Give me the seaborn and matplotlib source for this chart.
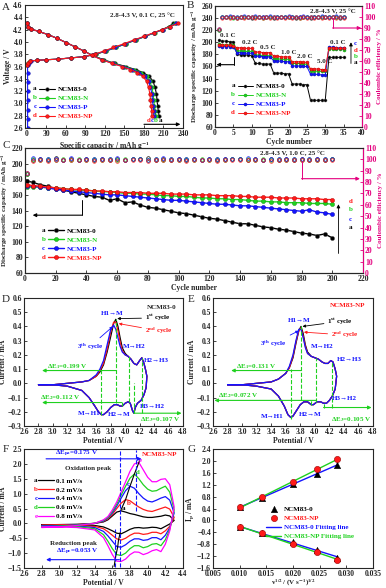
import numpy as np
import pandas as pd
import seaborn as sns
import matplotlib.pyplot as plt

# ---------------- data ----------------
names = ['NCM83-0', 'NCM83-N', 'NCM83-P', 'NCM83-NP']
letters = ['a', 'b', 'c', 'd']
colors = ['#000000', '#1fd11f', '#1414ff', '#ff1a1a']
edges = ['#555555', '#0f8f0f', '#0a0a99', '#aa0000']
ce_color = '#e4007f'

# A: first charge / discharge at 0.1 C
a_chg_v = [3.62, 3.66, 3.69, 3.70, 3.71, 3.72, 3.74, 3.76, 3.80, 3.85, 3.91, 3.97, 4.03, 4.09, 4.15, 4.20, 4.25, 4.30]
a_chg_v_p = [2.60, 2.75, 2.90, 3.05, 3.20, 3.35, 3.50, 3.62, 3.66, 3.69, 3.70, 3.71, 3.72, 3.74, 3.76, 3.80, 3.85,
             3.91, 3.97, 4.03, 4.09, 4.15, 4.20, 4.25, 4.30]
a_chg_cap_0 = [0, 2, 5, 15, 30, 48, 68, 88, 106, 121, 137, 152, 167, 182, 196, 208, 218, 225]
a_chg_cap_n = [0, 2, 5, 15, 30, 48, 68, 88, 106, 121, 137, 152, 167, 182, 197, 209, 219, 227]
a_chg_cap_p = [1, 1, 1, 1, 1, 1, 1, 1, 3, 6, 15, 30, 48, 68, 88, 105, 120, 136, 151, 166, 181, 196, 209, 220, 229]
a_chg_cap_np = [0, 2, 5, 15, 30, 48, 68, 88, 104, 118, 133, 149, 164, 180, 195, 208, 220, 232]
a_dis_v = [4.30, 4.25, 4.21, 4.17, 4.12, 4.06, 3.99, 3.92, 3.85, 3.78, 3.71, 3.65, 3.60, 3.55, 3.50, 3.44, 3.36,
           3.26, 3.16, 3.06, 2.96, 2.88, 2.80]
a_dis_cap_0 = [0, 2, 6, 18, 32, 46, 60, 74, 88, 101, 118, 135, 152, 167, 179, 188, 194, 197, 199, 200, 201, 202, 203]
a_dis_cap_n = [0, 2, 6, 18, 32, 46, 60, 74, 88, 101, 117, 134, 150, 165, 176, 184, 189, 192, 194, 195, 196, 197, 198]
a_dis_cap_p = [0, 2, 6, 18, 32, 46, 60, 74, 88, 100, 116, 132, 148, 162, 173, 181, 187, 190, 192, 193, 194, 195, 195]
a_dis_cap_np = [0, 2, 6, 18, 32, 46, 60, 74, 88, 100, 115, 131, 146, 159, 170, 178, 184, 187, 189, 190, 191, 192, 192]

# B: rate capability
b_cycle = list(range(1, 36))
b_cap_0 = [204, 202, 202, 201, 201, 180, 179, 179, 179, 178, 165, 165, 164, 164, 164, 149, 149, 149, 148, 148,
           131, 131, 131, 130, 130, 104, 104, 104, 104, 104, 175, 175, 175, 175, 175]
b_cap_n = [197, 196, 196, 196, 195, 186, 186, 185, 185, 185, 179, 179, 178, 178, 178, 173, 173, 172, 172, 172,
           165, 165, 165, 164, 164, 153, 153, 152, 152, 152, 189, 189, 189, 189, 188]
b_cap_p = [194, 193, 193, 193, 192, 183, 183, 182, 182, 182, 177, 177, 176, 176, 176, 169, 169, 169, 168, 168,
           161, 161, 161, 160, 160, 147, 147, 147, 146, 146, 192, 192, 191, 191, 191]
b_cap_np = [196, 195, 195, 195, 194, 191, 191, 190, 190, 190, 184, 184, 183, 183, 183, 177, 177, 176, 176, 176,
            168, 168, 168, 167, 167, 156, 156, 156, 155, 155, 191, 191, 190, 190, 190]
b_ce_0 = [88, 99.8, 100.2, 99.6, 100.1, 99.5, 100.3, 99.7, 100.0, 99.4, 100.2, 99.6, 100.1, 99.8, 100.3, 99.5,
          100.0, 99.7, 100.2, 99.6, 100.1, 99.4, 100.3, 99.8, 100.0, 99.5, 100.2, 99.7, 100.1, 99.6, 100.0, 99.8,
          100.2, 99.5, 100.1]
b_ce_n = [88, 100.1, 99.7, 100.3, 99.5, 100.0, 99.8, 100.4, 99.6, 100.2, 99.9, 100.3, 99.5, 100.1, 99.7, 100.2,
          99.6, 100.4, 99.8, 100.0, 99.7, 100.3, 99.5, 100.1, 99.9, 100.2, 99.6, 100.4, 99.8, 100.0, 99.7, 100.3,
          99.6, 100.1, 99.9]
b_ce_p = [89, 100.4, 100.0, 100.6, 99.9, 100.3, 100.1, 100.5, 99.8, 100.2, 100.6, 100.0, 100.3, 99.9, 100.5, 100.1,
          100.4, 99.8, 100.2, 100.6, 100.0, 100.3, 99.9, 100.5, 100.1, 100.4, 100.0, 100.2, 100.6, 99.9, 100.3,
          100.1, 100.5, 100.0, 100.2]
b_ce_np = [89, 99.5, 99.9, 99.3, 99.7, 99.4, 99.8, 99.2, 99.6, 99.9, 99.4, 99.7, 99.3, 99.8, 99.5, 99.9, 99.2,
           99.6, 99.4, 99.8, 99.3, 99.7, 99.5, 99.9, 99.4, 99.6, 99.2, 99.8, 99.5, 99.7, 99.3, 99.9, 99.4, 99.6, 99.5]
b_rates = ['0.1 C', '0.2 C', '0.5 C', '1.0 C', '2.0 C', '5.0 C', '0.1 C']

# C: long cycling at 1.0 C
c_cycle = [1, 5, 10, 15, 20, 25, 30, 35, 40, 45, 50, 55, 60, 65, 70, 75, 80, 85, 90, 95, 100, 105, 110, 115, 120,
           125, 130, 135, 140, 145, 150, 155, 160, 165, 170, 175, 180, 185, 190, 195, 200]
c_cap_0 = [178, 176, 173, 171, 168, 166, 164, 162, 160, 158, 157, 153, 155, 150, 151, 147, 144, 143, 141, 139,
           137, 136, 134, 132, 130, 129, 127, 125, 123, 123, 121, 119, 118, 116, 115, 113, 111, 110, 108, 110, 105]
c_cap_n = [170, 170, 170, 169, 169, 168, 167, 166, 166, 165, 164, 164, 163, 162, 162, 161, 161, 160, 159, 159,
           158, 158, 157, 156, 156, 155, 155, 154, 154, 153, 152, 152, 151, 151, 150, 150, 150, 149, 149, 149, 148]
c_cap_p = [172, 171, 170, 169, 167, 166, 165, 164, 163, 162, 161, 160, 160, 159, 158, 157, 156, 155, 154, 153,
           153, 152, 151, 150, 149, 148, 148, 147, 146, 146, 145, 144, 143, 142, 141, 140, 139, 141, 138, 137, 135]
c_cap_np = [173, 172, 171, 170, 169, 168, 167, 167, 166, 165, 165, 164, 164, 163, 163, 163, 162, 162, 162, 161,
            161, 161, 160, 160, 160, 159, 159, 159, 158, 158, 157, 157, 157, 156, 156, 156, 155, 155, 155, 154, 154]
c_ce_0 = [87, 99.4, 100.6, 99.1, 100.9, 99.5, 100.2, 99.7, 100.5, 99.3, 100.1, 99.6, 100.7, 99.4, 100.3, 99.9,
          100.8, 99.2, 100.0, 99.6, 100.4, 99.8, 100.2, 99.5, 100.6, 99.3, 100.1, 99.9, 100.5, 99.4, 100.2, 99.7,
          100.3, 99.6, 100.0, 99.5, 100.4, 99.8, 100.1, 99.6, 100.2]
c_ce_n = [87, 100.3, 99.5, 100.7, 99.2, 100.4, 99.8, 100.6, 99.4, 100.1, 99.7, 100.5, 99.3, 100.2, 99.9, 100.6,
          99.5, 100.3, 99.8, 100.4, 99.2, 100.0, 99.7, 100.5, 99.4, 100.2, 99.6, 100.3, 99.9, 100.1, 99.5, 100.4,
          99.8, 100.2, 99.3, 100.6, 99.7, 100.0, 99.6, 100.3, 99.9]
c_ce_p = [88, 100.8, 99.9, 100.2, 100.5, 99.6, 100.9, 99.8, 100.4, 100.7, 99.9, 100.3, 101.0, 99.7, 100.5, 100.1,
          99.8, 100.6, 100.9, 100.2, 99.9, 100.4, 100.7, 99.8, 100.3, 100.0, 100.6, 99.9, 100.2, 100.8, 100.1, 99.8,
          100.5, 100.3, 99.9, 100.6, 100.2, 100.0, 100.7, 100.3, 100.4]
c_ce_np = [88, 99.0, 99.6, 98.9, 99.4, 99.2, 99.7, 99.1, 99.5, 98.8, 99.3, 99.6, 99.0, 99.4, 99.2, 99.7, 98.9,
           99.5, 99.1, 99.3, 99.6, 99.0, 99.4, 99.2, 99.7, 98.9, 99.5, 99.3, 99.1, 99.6, 99.2, 99.4, 99.0, 99.5,
           99.3, 99.7, 99.1, 99.4, 99.2, 99.5, 99.3]

# D: CV of NCM83-0, first three cycles
d_an_v = [2.80, 3.00, 3.20, 3.40, 3.50, 3.60, 3.65, 3.70, 3.75, 3.80, 3.84, 3.87, 3.90, 3.93, 3.96, 4.00, 4.04,
          4.08, 4.12, 4.16, 4.20, 4.23, 4.26, 4.28, 4.30]
d_an_1 = [-0.01, -0.01, 0.00, 0.01, 0.02, 0.05, 0.08, 0.13, 0.22, 0.33, 0.42, 0.45, 0.40, 0.32, 0.25, 0.21, 0.19,
          0.17, 0.14, 0.13, 0.16, 0.18, 0.14, 0.10, 0.05]
d_an_2 = [-0.01, -0.01, 0.00, 0.01, 0.02, 0.05, 0.09, 0.14, 0.24, 0.36, 0.43, 0.43, 0.37, 0.29, 0.23, 0.20, 0.19,
          0.17, 0.14, 0.13, 0.16, 0.18, 0.14, 0.10, 0.05]
d_an_3 = [-0.01, -0.01, 0.00, 0.01, 0.02, 0.06, 0.10, 0.16, 0.27, 0.38, 0.41, 0.38, 0.32, 0.26, 0.22, 0.20, 0.19,
          0.17, 0.14, 0.13, 0.16, 0.18, 0.14, 0.10, 0.05]
d_ca_v = [4.30, 4.29, 4.26, 4.22, 4.17, 4.14, 4.12, 4.10, 4.07, 4.04, 4.00, 3.96, 3.93, 3.89, 3.85, 3.80, 3.75,
          3.70, 3.67, 3.63, 3.58, 3.50, 3.40, 3.20, 3.00, 2.80]
d_ca = [0.05, -0.03, -0.08, -0.12, -0.14, -0.17, -0.21, -0.19, -0.14, -0.13, -0.14, -0.16, -0.16, -0.15, -0.15,
        -0.17, -0.20, -0.22, -0.22, -0.20, -0.16, -0.10, -0.05, -0.02, -0.01, -0.01]
d_guide_x = [3.67, 3.87, 3.95, 4.05, 4.12, 4.23]
d_guide_lo = [-0.22, -0.14, -0.16, -0.13, -0.21, -0.21]
d_guide_hi = [0.10, 0.45, -0.13, 0.20, 0.00, 0.18]

# E: CV of NCM83-NP, first three cycles
e_an_v = [2.80, 3.00, 3.20, 3.40, 3.50, 3.60, 3.65, 3.70, 3.74, 3.78, 3.81, 3.84, 3.87, 3.90, 3.95, 4.00, 4.05,
          4.10, 4.14, 4.18, 4.22, 4.25, 4.28, 4.30]
e_an_1 = [-0.01, -0.01, 0.00, 0.01, 0.03, 0.07, 0.11, 0.18, 0.28, 0.37, 0.40, 0.35, 0.27, 0.22, 0.19, 0.18, 0.17,
          0.15, 0.14, 0.14, 0.16, 0.15, 0.10, 0.05]
e_an_2 = [-0.01, -0.01, 0.00, 0.01, 0.03, 0.07, 0.11, 0.19, 0.29, 0.37, 0.39, 0.33, 0.26, 0.21, 0.19, 0.18, 0.17,
          0.15, 0.14, 0.14, 0.16, 0.15, 0.10, 0.05]
e_an_3 = [-0.01, -0.01, 0.00, 0.01, 0.03, 0.07, 0.12, 0.20, 0.30, 0.38, 0.38, 0.32, 0.25, 0.21, 0.19, 0.18, 0.17,
          0.15, 0.14, 0.14, 0.16, 0.15, 0.10, 0.05]
e_ca_v = [4.30, 4.28, 4.24, 4.20, 4.16, 4.12, 4.08, 4.03, 3.98, 3.95, 3.90, 3.85, 3.80, 3.75, 3.70, 3.67, 3.63,
          3.58, 3.50, 3.40, 3.20, 3.00, 2.80]
e_ca = [0.05, -0.04, -0.09, -0.12, -0.14, -0.14, -0.13, -0.13, -0.15, -0.15, -0.13, -0.13, -0.15, -0.19, -0.23,
        -0.24, -0.22, -0.16, -0.09, -0.04, -0.02, -0.01, -0.01]
e_guide_x = [3.67, 3.81, 3.95, 4.02, 4.12, 4.23]
e_guide_lo = [-0.25, -0.12, -0.15, -0.13, -0.17, -0.17]
e_guide_hi = [0.10, 0.40, -0.12, 0.18, -0.14, 0.16]

# F: CV of NCM83-NP at different scan rates
f_rates = ['0.1 mV/s', '0.2 mV/s', '0.4 mV/s', '0.6 mV/s', '0.8 mV/s']
f_letters = ['a', 'b', 'c', 'd', 'e']
f_colors = ['#000000', '#ff1a1a', '#1414ff', '#1fd11f', '#ff00ff']
f_an_v = [2.80, 3.00, 3.20, 3.40, 3.50, 3.55, 3.60, 3.65, 3.70, 3.75, 3.80, 3.85, 3.90, 3.95, 4.00, 4.05, 4.10,
          4.15, 4.20, 4.25, 4.30]
f_an = [
    [-0.05, -0.04, -0.03, 0.00, 0.05, 0.12, 0.25, 0.38, 0.42, 0.38, 0.33, 0.30, 0.26, 0.22, 0.20, 0.20, 0.22, 0.24,
     0.28, 0.25, 0.10],
    [-0.07, -0.06, -0.04, 0.00, 0.07, 0.15, 0.30, 0.50, 0.68, 0.80, 0.76, 0.65, 0.55, 0.47, 0.42, 0.40, 0.45, 0.50,
     0.55, 0.48, 0.20],
    [-0.10, -0.08, -0.05, 0.00, 0.08, 0.18, 0.35, 0.58, 0.85, 1.10, 1.25, 1.18, 1.00, 0.85, 0.75, 0.72, 0.78, 0.85,
     0.90, 0.78, 0.35],
    [-0.12, -0.10, -0.06, 0.00, 0.10, 0.20, 0.40, 0.65, 0.95, 1.25, 1.52, 1.66, 1.50, 1.30, 1.15, 1.08, 1.10, 1.18,
     1.25, 1.05, 0.45],
    [-0.14, -0.12, -0.07, 0.00, 0.12, 0.23, 0.45, 0.72, 1.05, 1.40, 1.75, 2.00, 2.05, 1.80, 1.55, 1.40, 1.40, 1.48,
     1.50, 1.30, 0.55],
]
f_ca_v = [4.30, 4.25, 4.20, 4.15, 4.10, 4.05, 4.00, 3.95, 3.90, 3.85, 3.80, 3.75, 3.70, 3.65, 3.60, 3.55, 3.50,
          3.40, 3.20, 3.00, 2.80]
f_ca = [
    [0.10, -0.02, -0.10, -0.18, -0.14, -0.13, -0.15, -0.16, -0.14, -0.15, -0.20, -0.28, -0.35, -0.33, -0.25, -0.18,
     -0.12, -0.07, -0.05, -0.05, -0.05],
    [0.20, -0.10, -0.25, -0.35, -0.30, -0.30, -0.35, -0.37, -0.33, -0.33, -0.40, -0.50, -0.56, -0.52, -0.40, -0.28,
     -0.18, -0.10, -0.07, -0.06, -0.06],
    [0.35, -0.15, -0.40, -0.55, -0.48, -0.48, -0.55, -0.57, -0.52, -0.52, -0.60, -0.72, -0.80, -0.78, -0.60, -0.42,
     -0.27, -0.14, -0.09, -0.08, -0.08],
    [0.45, -0.20, -0.55, -0.75, -0.68, -0.70, -0.78, -0.82, -0.75, -0.75, -0.85, -1.00, -1.08, -1.05, -0.85, -0.60,
     -0.38, -0.18, -0.11, -0.10, -0.10],
    [0.55, -0.25, -0.70, -0.95, -0.88, -0.92, -1.00, -1.05, -0.97, -0.96, -1.05, -1.20, -1.28, -1.27, -1.05, -0.75,
     -0.48, -0.22, -0.14, -0.12, -0.12],
]
f_pa_x = [3.69, 3.75, 3.80, 3.85, 3.91]
f_pa_y = [0.40, 0.80, 1.25, 1.66, 2.12]
f_pc_x = [3.69, 3.67, 3.66, 3.64, 3.62]
f_pc_y = [-0.30, -0.56, -0.80, -1.08, -1.45]

# G: peak current vs square root of scan rate
g_sqrt_v = [0.0100, 0.0141, 0.0200, 0.0245, 0.0283]
g_pa_0 = [0.44, 0.76, 1.22, 1.56, 1.87]
g_pc_0 = [-0.22, -0.44, -0.74, -0.98, -1.26]
g_pa_np = [0.44, 0.77, 1.29, 1.72, 2.06]
g_pc_np = [-0.22, -0.44, -0.78, -1.07, -1.33]

# ---------------- style ----------------
sns.set_style('ticks')
plt.rcParams['font.family'] = ['Liberation Serif', 'DejaVu Serif']
plt.rcParams['font.weight'] = 'bold'
plt.rcParams['axes.labelweight'] = 'bold'
plt.rcParams['mathtext.fontset'] = 'stix'
plt.rcParams['mathtext.default'] = 'bf'

TICK, LAB, LEG, ANN = 5.5, 5.5, 5.0, 5.0
GREEN = '#1fd11f'
BLUE = '#1414ff'
RED = '#ff1a1a'

W, H = 386, 588
fig = plt.figure(figsize=(W / 100, H / 100), dpi=100)


def add_ax(l, t, r, b):
    return fig.add_axes([l / W, 1 - b / H, (r - l) / W, (b - t) / H])


def style(ax):
    ax.tick_params(direction='in', length=2, width=0.6, labelsize=TICK, pad=1.5)
    for s in ax.spines.values():
        s.set_linewidth(0.8)


def arrow(ax, start, end, color, lw=0.8):
    ax.annotate('', xy=end, xytext=start,
                arrowprops=dict(arrowstyle='-|>', color=color, lw=lw, mutation_scale=5, shrinkA=0, shrinkB=0))


def callout(ax, txt, tip, at, color, ha='left'):
    ax.annotate(txt, xy=tip, xytext=at, fontsize=ANN, va='center', ha=ha, color=color,
                arrowprops=dict(arrowstyle='-|>', color=color, lw=0.6, mutation_scale=4, shrinkA=0, shrinkB=0))


letter_jobs = []


def legend(ax, handles, labels, text_colors, tag_letters=None, tag_colors=None, **kw):
    leg = ax.legend(handles, labels, frameon=False, fontsize=LEG, handlelength=2.2, handletextpad=0.4,
                    labelspacing=0.45, borderpad=0.2, **kw)
    for t, c in zip(leg.get_texts(), text_colors):
        t.set_color(c)
    if tag_letters:
        letter_jobs.append((leg, tag_letters, tag_colors or text_colors))
    return leg


# ---------------- A ----------------
axA = add_ax(25, 5, 183, 128)
style(axA)
chg_sets = [(a_chg_cap_0, a_chg_v), (a_chg_cap_n, a_chg_v), (a_chg_cap_p, a_chg_v_p), (a_chg_cap_np, a_chg_v)]
dis_sets = [a_dis_cap_0, a_dis_cap_n, a_dis_cap_p, a_dis_cap_np]
for i in range(4):
    kw = dict(ax=axA, sort=False, estimator=None, color=colors[i], marker='o', markersize=2.6,
              markeredgewidth=0.3, markeredgecolor=edges[i], linewidth=0.8)
    sns.lineplot(x=chg_sets[i][0], y=chg_sets[i][1], **kw)
    sns.lineplot(x=dis_sets[i], y=a_dis_v, label=names[i], **kw)
axA.set_xlim(-3, 240)
axA.set_ylim(2.6, 4.6)
axA.set_xticks(range(0, 241, 30))
axA.set_yticks(np.arange(2.6, 4.61, 0.2))
axA.set_xlabel('Specific capacity / mAh g$^{-1}$', fontsize=LAB, labelpad=1)
axA.set_ylabel('Voltage / V', fontsize=LAB, labelpad=1)
h, l = axA.get_legend_handles_labels()
legend(axA, h, l, colors, letters, loc='upper left', bbox_to_anchor=(0.06, 0.38))
axA.text(0.95, 0.92, '2.8-4.3 V, 0.1 C, 25 °C', transform=axA.transAxes, ha='right', va='center', fontsize=ANN)
arrow(axA, (180, 2.66), (236, 2.66), 'black')
for lt, c, xx in zip(['d', 'c', 'b', 'a'], [RED, BLUE, GREEN, 'black'], [187, 193, 199, 206]):
    axA.text(xx, 2.72, lt, color=c, fontsize=ANN, ha='center', va='center')

# ---------------- B ----------------
axB = add_ax(215, 6, 362, 127)
style(axB)
axB2 = axB.twinx()
style(axB2)
b_caps = [b_cap_0, b_cap_n, b_cap_p, b_cap_np]
b_ces = [b_ce_0, b_ce_n, b_ce_p, b_ce_np]
for i in range(4):
    sns.lineplot(x=b_cycle, y=b_caps[i], ax=axB, estimator=None, color=colors[i], marker='o', markersize=2.2,
                 markeredgewidth=0.3, markeredgecolor=edges[i], linewidth=0.7, label=names[i])
    sns.lineplot(x=b_cycle, y=b_ces[i], ax=axB2, estimator=None, color=colors[i], marker='o', markersize=2.4,
                 markerfacecolor='none', markeredgecolor=colors[i], markeredgewidth=0.5, linewidth=0)
axB.set_xlim(0, 40)
axB.set_ylim(60, 260)
axB.set_xticks(range(0, 41, 5))
axB.set_yticks(range(60, 261, 20))
axB2.set_ylim(0, 110)
axB2.set_yticks(range(0, 111, 10))
axB2.tick_params(axis='y', colors=ce_color)
axB2.spines['right'].set_color(ce_color)
axB.set_xlabel('Cycle number', fontsize=LAB, labelpad=1)
axB.set_ylabel('Discharge specific capacity / mAh g$^{-1}$', fontsize=5, labelpad=1)
axB2.set_ylabel('Coulombic efficiency / %', fontsize=5, color=ce_color, labelpad=1)
h, l = axB.get_legend_handles_labels()
legend(axB, h, l, colors, letters, loc='upper left', bbox_to_anchor=(0.12, 0.4))
b_rate_pos = [(3.4, 211), (9.5, 199), (14.5, 191), (20, 183), (24.5, 176), (30, 169), (33.5, 199)]
for txt, (xx, yy) in zip(b_rates, b_rate_pos):
    axB.text(xx, yy, txt, fontsize=ANN, ha='center', va='center')
axB.plot([5.2, 5.2], [175, 163], color='black', lw=0.7)
arrow(axB, (5.2, 163), (0.4, 163), 'black')
axB2.plot([32, 32], [99, 90], color=ce_color, lw=0.7)
arrow(axB2, (32, 90), (39.8, 90), ce_color)
axB.text(38.2, 252, '2.8-4.3 V, 25 °C', fontsize=ANN, ha='right', va='center')
arrow(axB, (37.0, 165), (37.0, 200), 'black', lw=0.6)
for lt, c, yy in zip(['c', 'd', 'b', 'a'], [BLUE, RED, GREEN, 'black'], [198, 186, 176, 166]):
    axB.text(38.3, yy, lt, color=c, fontsize=ANN, ha='center', va='center')

# ---------------- C ----------------
axC = add_ax(25, 148, 363, 273)
style(axC)
axC2 = axC.twinx()
style(axC2)
c_caps = [c_cap_0, c_cap_n, c_cap_p, c_cap_np]
c_ces = [c_ce_0, c_ce_n, c_ce_p, c_ce_np]
for i in range(4):
    sns.lineplot(x=c_cycle, y=c_caps[i], ax=axC, estimator=None, color=colors[i], marker='o', markersize=3.0,
                 markeredgewidth=0.3, markeredgecolor=edges[i], linewidth=1.0, label=names[i])
    sns.lineplot(x=c_cycle, y=c_ces[i], ax=axC2, estimator=None, color=colors[i], marker='o', markersize=2.6,
                 markerfacecolor='none', markeredgecolor=colors[i], markeredgewidth=0.5, linewidth=0)
axC.set_xlim(0, 220)
axC.set_ylim(60, 220)
axC.set_xticks(range(0, 221, 20))
axC.set_yticks(range(60, 221, 20))
axC2.set_ylim(0, 110)
axC2.set_yticks(range(0, 111, 10))
axC2.tick_params(axis='y', colors=ce_color)
axC2.spines['right'].set_color(ce_color)
axC.set_xlabel('Cycle number', fontsize=LAB, labelpad=1)
axC.set_ylabel('Discharge specific capacity / mAh g$^{-1}$', fontsize=5, labelpad=1)
axC2.set_ylabel('Coulombic efficiency / %', fontsize=5, color=ce_color, labelpad=1)
h, l = axC.get_legend_handles_labels()
legend(axC, h, l, colors, letters, loc='upper left', bbox_to_anchor=(0.055, 0.4))
axC.text(174, 213, '2.8-4.3 V, 1.0 C, 25 °C', fontsize=ANN, ha='center', va='center')
axC.plot([37, 37], [153, 134], color='black', lw=0.7)
arrow(axC, (37, 134), (5, 134), 'black')
axC2.plot([180, 180], [99, 83], color=ce_color, lw=0.7)
arrow(axC2, (180, 83), (218, 83), ce_color)
arrow(axC, (204, 85), (204, 148), 'black', lw=0.6)
for lt, c, yy in zip(['d', 'b', 'c', 'a'], [RED, GREEN, BLUE, 'black'], [152, 141, 129, 118]):
    axC.text(212, yy, lt, color=c, fontsize=ANN, ha='center', va='center')


# ---------------- D / E ----------------
def cv_panel(ax, an_v, ans, ca_v, ca, guide_x, guide_lo, guide_hi):
    style(ax)
    for an, c in zip(ans, ['black', RED, BLUE]):
        sns.lineplot(x=an_v + ca_v, y=an + ca, ax=ax, sort=False, estimator=None, color=c, linewidth=0.9)
    ax.vlines(guide_x, guide_lo, guide_hi, colors=GREEN, linestyles='--', lw=0.8)
    ax.set_xlim(2.6, 4.8)
    ax.set_ylim(-0.3, 0.6)
    ax.set_xticks(np.arange(2.6, 4.81, 0.2))
    ax.set_yticks(np.arange(-0.3, 0.61, 0.1))
    ax.set_xlabel('Potential / V', fontsize=LAB, labelpad=1)
    ax.set_ylabel('Current / mA', fontsize=LAB, labelpad=1)


axD = add_ax(24, 298, 183, 426)
cv_panel(axD, d_an_v, [d_an_1, d_an_2, d_an_3], d_ca_v, d_ca, d_guide_x, d_guide_lo, d_guide_hi)
axD.text(4.5, 0.535, 'NCM83-0', fontsize=ANN, ha='center', va='center')
axD.text(3.82, 0.49, 'H1→M', color=BLUE, fontsize=ANN, ha='center', va='center')
callout(axD, '1$^{st}$ cycle', (3.89, 0.455), (4.27, 0.46), 'black')
callout(axD, '2$^{nd}$ cycle', (3.91, 0.42), (4.27, 0.37), RED)
callout(axD, '3$^{th}$ cycle', (3.83, 0.40), (3.33, 0.26), BLUE)
axD.text(4.13, 0.26, 'M→H2', color=BLUE, fontsize=ANN, ha='center', va='center')
axD.text(4.43, 0.16, 'H2→H3', color=BLUE, fontsize=ANN, ha='center', va='center')
axD.text(4.37, -0.16, 'H3→H2', color=BLUE, fontsize=ANN, ha='center', va='center')
axD.text(3.5, -0.21, 'M→H1', color=BLUE, fontsize=ANN, ha='center', va='center')
axD.text(3.92, -0.22, 'H2→M', color=BLUE, fontsize=ANN, ha='center', va='center')
axD.text(3.2, 0.12, 'ΔE$_1$=0.199 V', color=GREEN, fontsize=ANN, ha='center', va='center')
arrow(axD, (3.87, 0.09), (2.85, 0.09), GREEN)
axD.text(3.1, -0.10, 'ΔE$_2$=0.112 V', color=GREEN, fontsize=ANN, ha='center', va='center')
arrow(axD, (3.95, -0.135), (2.85, -0.135), GREEN)
axD.text(4.48, -0.255, 'ΔE$_3$=0.107 V', color=GREEN, fontsize=ANN, ha='center', va='center')
arrow(axD, (4.12, -0.21), (4.78, -0.21), GREEN)

axE = add_ax(213, 298, 373, 426)
cv_panel(axE, e_an_v, [e_an_1, e_an_2, e_an_3], e_ca_v, e_ca, e_guide_x, e_guide_lo, e_guide_hi)
axE.text(4.45, 0.545, 'NCM83-NP', color=RED, fontsize=ANN, ha='center', va='center')
axE.text(3.78, 0.44, 'H1→M', color=BLUE, fontsize=ANN, ha='center', va='center')
callout(axE, '1$^{st}$ cycle', (3.83, 0.40), (4.17, 0.435), 'black')
callout(axE, '2$^{nd}$ cycle', (3.85, 0.36), (4.22, 0.34), RED)
callout(axE, '3$^{th}$ cycle', (3.78, 0.37), (3.25, 0.28), BLUE)
axE.text(4.1, 0.26, 'M→H2', color=BLUE, fontsize=ANN, ha='center', va='center')
axE.text(4.48, 0.17, 'H2→H3', color=BLUE, fontsize=ANN, ha='center', va='center')
axE.text(4.4, -0.11, 'H3→H2', color=BLUE, fontsize=ANN, ha='center', va='center')
axE.text(3.42, -0.23, 'M→H1', color=BLUE, fontsize=ANN, ha='center', va='center')
axE.text(3.94, -0.22, 'H2→M', color=BLUE, fontsize=ANN, ha='center', va='center')
axE.text(3.2, 0.12, 'ΔE$_1$=0.131 V', color=GREEN, fontsize=ANN, ha='center', va='center')
arrow(axE, (3.81, 0.09), (2.85, 0.09), GREEN)
axE.text(2.95, -0.085, 'ΔE$_2$=0.072 V', color=GREEN, fontsize=ANN, ha='center', va='center')
arrow(axE, (4.02, -0.12), (2.62, -0.12), GREEN)
axE.text(4.5, -0.255, 'ΔE$_3$=0.105 V', color=GREEN, fontsize=ANN, ha='center', va='center')
arrow(axE, (4.12, -0.17), (4.78, -0.17), GREEN)

# ---------------- F ----------------
axF = add_ax(24, 449, 183, 568)
style(axF)
for i in range(5):
    sns.lineplot(x=f_an_v + f_ca_v, y=f_an[i] + f_ca[i], ax=axF, sort=False, estimator=None, color=f_colors[i],
                 linewidth=0.9, label=f_rates[i])
sns.lineplot(x=f_pa_x, y=f_pa_y, ax=axF, sort=False, estimator=None, color='black', linewidth=0.8)
sns.lineplot(x=f_pc_x, y=f_pc_y, ax=axF, sort=False, estimator=None, color='black', linewidth=0.8)
axF.vlines([3.63, 3.69, 3.87], [-1.45, -1.45, 0.4], [-0.2, 2.45, 2.45], colors=BLUE, linestyles='--', lw=0.8)
axF.set_xlim(2.6, 4.4)
axF.set_ylim(-1.5, 2.5)
axF.set_xticks(np.arange(2.6, 4.41, 0.2))
axF.set_yticks(np.arange(-1.5, 2.51, 0.5))
axF.set_xlabel('Potential / V', fontsize=LAB, labelpad=1)
axF.set_ylabel('Current / mA', fontsize=LAB, labelpad=1)
h, l = axF.get_legend_handles_labels()
legend(axF, h[:5], l[:5], ['black'] * 5, f_letters, f_colors, loc='upper left', bbox_to_anchor=(0.06, 0.8))
for lt, c, (xx, yy) in zip(f_letters, f_colors, [(3.73, 0.5), (3.79, 0.66), (3.78, 1.3), (3.89, 1.72), (3.92, 2.12)]):
    axF.text(xx, yy, lt, color=c, fontsize=ANN, ha='center', va='center')
axF.text(3.2, 2.33, 'ΔE$_{pa}$=0.175 V', color=BLUE, fontsize=ANN, ha='center', va='center')
arrow(axF, (2.85, 2.17), (3.93, 2.17), BLUE)
axF.text(4.13, 2.3, 'NCM83-NP', color=RED, fontsize=ANN, ha='center', va='center')
axF.text(3.33, 1.86, 'Oxidation peak', fontsize=ANN, ha='center', va='center')
axF.text(3.16, -0.67, 'Reduction peak', fontsize=ANN, ha='center', va='center')
axF.text(3.2, -0.97, 'ΔE$_{pc}$=0.053 V', color=BLUE, fontsize=ANN, ha='center', va='center')
arrow(axF, (3.68, -1.22), (2.85, -1.22), BLUE)

# ---------------- G ----------------
axG = add_ax(213, 449, 373, 568)
style(axG)
for ys, c, lab in [(g_pa_0, BLUE, 'NCM83-0 Fitting line'), (g_pc_0, BLUE, None),
                   (g_pa_np, GREEN, 'NCM83-NP Fitting line'), (g_pc_np, GREEN, None)]:
    sns.regplot(x=g_sqrt_v, y=ys, ax=axG, scatter=False, ci=None, color=c, line_kws={'lw': 1.0}, label=lab)
sns.scatterplot(x=g_sqrt_v + g_sqrt_v, y=g_pa_0 + g_pc_0, ax=axG, marker='^', s=22, color='black',
                edgecolor='black', linewidth=0.3, label='NCM83-0', zorder=3)
sns.scatterplot(x=g_sqrt_v + g_sqrt_v, y=g_pa_np + g_pc_np, ax=axG, marker='o', s=20, color=RED,
                edgecolor='#990000', linewidth=0.4, label='NCM83-NP', zorder=4)
axG.set_xlim(0.005, 0.035)
axG.set_ylim(-1.6, 2.4)
axG.set_xticks(np.arange(0.005, 0.0351, 0.005))
axG.set_xticklabels(['0.005', '0.010', '0.015', '0.020', '0.025', '0.030', '0.035'])
axG.set_yticks(np.arange(-1.6, 2.41, 0.4))
axG.set_xlabel('v$^{1/2}$ / (V s$^{-1}$)$^{1/2}$', fontsize=5, labelpad=0)
axG.set_ylabel('I$_p$ / mA', fontsize=LAB, labelpad=1)
h, l = axG.get_legend_handles_labels()
order = [l.index('NCM83-0'), l.index('NCM83-NP'), l.index('NCM83-0 Fitting line'), l.index('NCM83-NP Fitting line')]
legend(axG, [h[k] for k in order], [l[k] for k in order], ['black', RED, BLUE, GREEN],
       loc='upper left', bbox_to_anchor=(0.3, 0.56))

# panel letters
for lt, (xx, yy) in zip('ABCDEFG', [(6, 8), (190, 6), (6, 146), (6, 299), (191, 299), (6, 450), (191, 450)]):
    fig.text(xx / W, 1 - yy / H, lt, fontsize=8, fontweight='normal', ha='center', va='center')

# letters to the left of legend handles
fig.canvas.draw()
r = fig.canvas.get_renderer()
for leg, lts, cols in letter_jobs:
    for hd, lt, c in zip(leg.legend_handles, lts, cols):
        bb = hd.get_window_extent(r)
        fx, fy = fig.transFigure.inverted().transform((bb.x0 - 1, (bb.y0 + bb.y1) / 2))
        fig.text(fx, fy, lt, color=c, fontsize=LEG, ha='right', va='center')

fig.savefig('out.png', dpi=100)
